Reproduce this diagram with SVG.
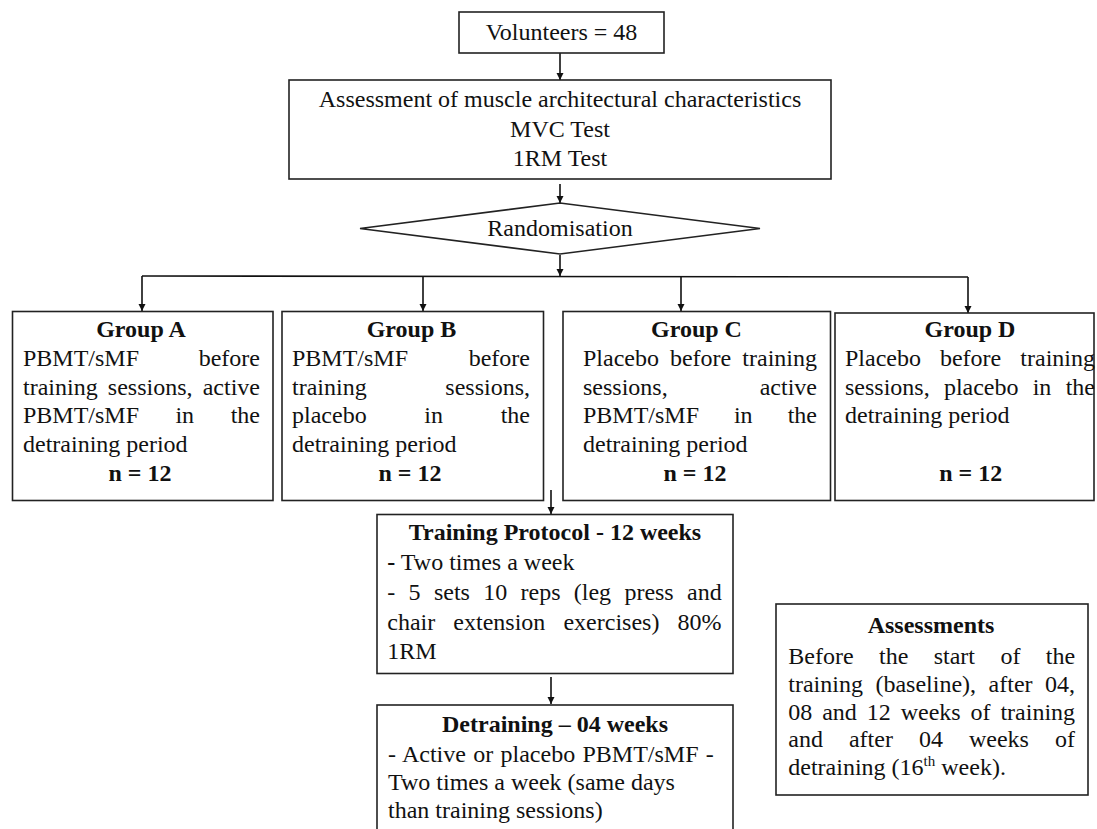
<svg xmlns="http://www.w3.org/2000/svg" width="1097" height="829" viewBox="0 0 1097 829">
<style>
.box{fill:#fff;stroke:#222;stroke-width:1.6}
.t{font-family:"Liberation Serif","Times New Roman",serif;font-size:24px;fill:#111}
.b{font-weight:bold}
.c{text-anchor:middle}
.e{text-anchor:end}
.ln{fill:none;stroke:#111;stroke-width:1.6}
</style>
<defs>
<marker id="ah" viewBox="0 0 10 10" refX="10" refY="5" markerWidth="7" markerHeight="8" markerUnits="userSpaceOnUse" orient="auto">
<path d="M0,0 L10,5 L0,10 Z" fill="#111"/>
</marker>
</defs>
<rect width="1097" height="829" fill="#fff"/>
<g id="connectors">
<line class="ln" x1="560" y1="53" x2="560" y2="80" marker-end="url(#ah)"/>
<line class="ln" x1="560" y1="184" x2="560" y2="203" marker-end="url(#ah)"/>
<line class="ln" x1="560" y1="255" x2="560" y2="276" marker-end="url(#ah)"/>
<polyline class="ln" points="142,276 968,277"/>
<line class="ln" x1="142" y1="276" x2="142" y2="311" marker-end="url(#ah)"/>
<line class="ln" x1="423" y1="276" x2="423" y2="311" marker-end="url(#ah)"/>
<line class="ln" x1="681" y1="276" x2="681" y2="311" marker-end="url(#ah)"/>
<line class="ln" x1="968" y1="277" x2="968" y2="313" marker-end="url(#ah)"/>
<line class="ln" x1="551" y1="490" x2="551" y2="514" marker-end="url(#ah)"/>
<line class="ln" x1="551" y1="677" x2="551" y2="704" marker-end="url(#ah)"/>
</g>
<g id="volunteers">
<rect class="box" x="459" y="12" width="205" height="41"/>
<text class="t c" x="561.5" y="40">Volunteers = 48</text>
</g>
<g id="assessment">
<rect class="box" x="289" y="80" width="542" height="99"/>
<text class="t c" x="560" y="107">Assessment of muscle architectural characteristics</text>
<text class="t c" x="560" y="137">MVC Test</text>
<text class="t c" x="560" y="166">1RM Test</text>
</g>
<g id="randomisation">
<polygon class="box" points="360,228.5 560,203 760,228.5 560,254"/>
<text class="t c" x="560" y="236">Randomisation</text>
</g>
<g id="groupA">
<rect class="box" x="12.5" y="311.5" width="260.5" height="189"/>
<text class="t b c" x="141" y="337">Group A</text>
<text class="t" y="366"><tspan x="23">PBMT/sMF</tspan><tspan class="e" x="260">before</tspan></text>
<text class="t" y="394.5"><tspan x="23">training</tspan><tspan class="c" x="150.2">sessions,</tspan><tspan class="e" x="260">active</tspan></text>
<text class="t" y="423"><tspan x="23">PBMT/sMF</tspan><tspan class="c" x="184.8">in</tspan><tspan class="e" x="260">the</tspan></text>
<text class="t" x="23" y="451.5">detraining period</text>
<text class="t b c" x="140" y="481">n = 12</text>
</g>
<g id="groupB">
<rect class="box" x="282" y="311.5" width="261.5" height="189"/>
<text class="t b c" x="411.5" y="337">Group B</text>
<text class="t" y="366"><tspan x="292">PBMT/sMF</tspan><tspan class="e" x="530">before</tspan></text>
<text class="t" y="394.5"><tspan x="292">training</tspan><tspan class="e" x="530">sessions,</tspan></text>
<text class="t" y="423"><tspan x="292">placebo</tspan><tspan class="c" x="433.6">in</tspan><tspan class="e" x="530">the</tspan></text>
<text class="t" x="292" y="451.5">detraining period</text>
<text class="t b c" x="410" y="481">n = 12</text>
</g>
<g id="groupC">
<rect class="box" x="563" y="311.5" width="267.5" height="189"/>
<text class="t b c" x="696.5" y="337">Group C</text>
<text class="t" y="366"><tspan x="583">Placebo</tspan><tspan class="c" x="700.6">before</tspan><tspan class="e" x="817">training</tspan></text>
<text class="t" y="394.5"><tspan x="583">sessions,</tspan><tspan class="e" x="817">active</tspan></text>
<text class="t" y="423"><tspan x="583">PBMT/sMF</tspan><tspan class="c" x="743.3">in</tspan><tspan class="e" x="817">the</tspan></text>
<text class="t" x="583" y="451.5">detraining period</text>
<text class="t b c" x="695" y="481">n = 12</text>
</g>
<g id="groupD">
<rect class="box" x="835" y="313" width="259" height="187.5"/>
<text class="t b c" x="970" y="337">Group D</text>
<text class="t" y="366"><tspan x="845">Placebo</tspan><tspan class="c" x="970.6">before</tspan><tspan class="e" x="1095">training</tspan></text>
<text class="t" y="394.5"><tspan x="845">sessions,</tspan><tspan x="943.9">placebo</tspan><tspan x="1032.7">in</tspan><tspan class="e" x="1095">the</tspan></text>
<text class="t" x="845" y="423">detraining period</text>
<text class="t b c" x="970.7" y="481">n = 12</text>
</g>
<g id="training">
<rect class="box" x="377" y="514.5" width="356" height="159"/>
<text class="t b c" x="555" y="540">Training Protocol - 12 weeks</text>
<text class="t" x="387.3" y="570"><tspan class="b">-</tspan> Two times a week</text>
<text class="t" x="387.3" y="600" word-spacing="7.3">- 5 sets 10 reps (leg press and</text>
<text class="t" x="387.3" y="630" word-spacing="12.1">chair extension exercises) 80%</text>
<text class="t" x="387.3" y="659">1RM</text>
</g>
<g id="detraining">
<rect class="box" x="377" y="705" width="356" height="140"/>
<text class="t b c" x="555" y="731.7">Detraining – 04 weeks</text>
<text class="t" x="388" y="761.7" word-spacing="1.3">- Active or placebo PBMT/sMF -</text>
<text class="t" x="388" y="790">Two times a week (same days</text>
<text class="t" x="388" y="818.3">than training sessions)</text>
</g>
<g id="assessments">
<rect class="box" x="776" y="604" width="312" height="191"/>
<text class="t b c" x="931" y="633.3">Assessments</text>
<text class="t" x="788.3" y="664" word-spacing="19.4">Before the start of the</text>
<text class="t" x="788.3" y="691.7" word-spacing="6.5">training (baseline), after 04,</text>
<text class="t" x="788.3" y="720" word-spacing="3.9">08 and 12 weeks of training</text>
<text class="t" x="788.3" y="746.7" word-spacing="20">and after 04 weeks of</text>
<text class="t" x="788.3" y="775">detraining (16<tspan font-size="15" dy="-9">th</tspan><tspan dy="9"> week).</tspan></text>
</g>
</svg>
